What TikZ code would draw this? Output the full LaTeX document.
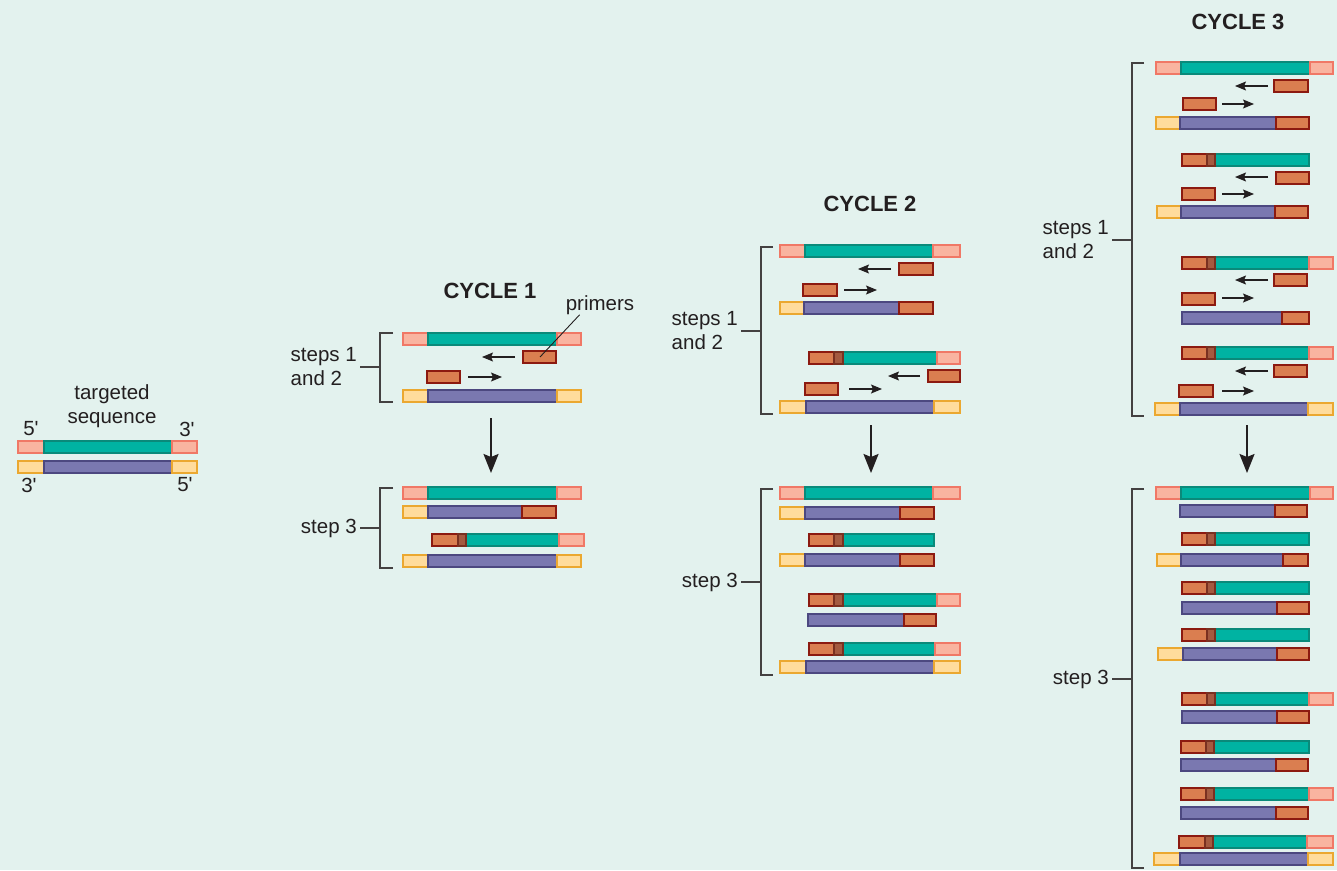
\documentclass[tikz,border=0pt]{standalone}
\usepackage{fontspec}
\setmainfont{Liberation Sans}
\usetikzlibrary{arrows.meta}

\definecolor{bgc}{HTML}{E3F2EE}
\definecolor{inkc}{HTML}{231F20}
\definecolor{pkfill}{HTML}{F9B4A0}\definecolor{pkline}{HTML}{F07866}
\definecolor{tlfill}{HTML}{00B3A2}\definecolor{tlline}{HTML}{0A8A7A}
\definecolor{pufill}{HTML}{7A78B0}\definecolor{puline}{HTML}{4C4880}
\definecolor{ylfill}{HTML}{FFDC9C}\definecolor{ylline}{HTML}{EBA830}
\definecolor{prfill}{HTML}{DA7E50}\definecolor{prline}{HTML}{8C1A10}
\definecolor{brfill}{HTML}{A45A40}\definecolor{brline}{HTML}{7A3020}

% one piece of a strand: style, x from, x to, top y
\newcommand{\seg}[4]{\draw[#1] (#2,#4) rectangle (#3,#4+12);}

\begin{document}
\begin{tikzpicture}[x=1pt,y=-1pt,
    pk/.style={fill=pkfill,draw=pkline,line width=1.2pt},
    tl/.style={fill=tlfill,draw=tlline,line width=1.2pt},
    pu/.style={fill=pufill,draw=puline,line width=1.2pt},
    yl/.style={fill=ylfill,draw=ylline,line width=1.2pt},
    pr/.style={fill=prfill,draw=prline,line width=1.2pt},
    br/.style={fill=brfill,draw=brline,line width=1.2pt},
    brk/.style={draw=inkc!85,line width=1.3pt},
    parr/.style={draw=inkc,line width=1.1pt,-{Stealth[length=11pt,width=9pt,inset=2pt]}},
    flow/.style={draw=inkc,line width=2pt,-{Stealth[length=19pt,width=15pt,inset=3pt]}},
    lbl/.style={text=inkc,font=\fontsize{20.5}{24}\selectfont,inner sep=3pt},
    ttl/.style={text=inkc,font=\fontsize{22}{26}\selectfont\bfseries,inner sep=0pt}]
  \fill[bgc] (0,0) rectangle (1337,870);
  \useasboundingbox (0,0) rectangle (1337,870);

  % targeted sequence
  \node[lbl,align=center] (tgt) at (112,406) {targeted\\sequence};
  \node[lbl] (t5a) at (31,429) {5\textquotesingle};
  \node[lbl] (t3a) at (187,429) {3\textquotesingle};
  \node[lbl] (t3b) at (29,485) {3\textquotesingle};
  \node[lbl] (t5b) at (185,485) {5\textquotesingle};
  \seg{pk}{18}{44}{441} \seg{tl}{44}{172}{441} \seg{pk}{172}{197}{441}
  \seg{yl}{18}{44}{461} \seg{pu}{44}{172}{461} \seg{yl}{172}{197}{461}

  % cycle 1
  \node[ttl] (cyc1) at (490,291) {CYCLE 1};
  \node[lbl,inner sep=0pt] (prim) at (600,305) {primers};
  \coordinate (primtip) at (540,357);
  \node[lbl,align=left,anchor=east] (c1a) at (360,367) {steps 1\\and 2};
  \draw[brk] (393,333) -- (380,333) -- (380,402) -- (393,402);
  \draw[brk] (c1a.east) -- (380,367);
  \seg{pk}{403}{428}{333} \seg{tl}{428}{557}{333} \seg{pk}{557}{581}{333}
  \seg{pr}{523}{556}{351}
  \seg{pr}{427}{460}{371}
  \seg{yl}{403}{428}{390} \seg{pu}{428}{557}{390} \seg{yl}{557}{581}{390}
  \draw[parr] (515,357) -- (482,357);
  \draw[parr] (468,377) -- (502,377);
  \draw[inkc,line width=0.9pt] ([xshift=14pt]prim.south west) -- (primtip);

  \node[lbl,anchor=east] (c1b) at (360,528) {step 3};
  \draw[brk] (393,488) -- (380,488) -- (380,568) -- (393,568);
  \draw[brk] (c1b.east) -- (380,528);
  \seg{pk}{403}{428}{487} \seg{tl}{428}{557}{487} \seg{pk}{557}{581}{487}
  \seg{yl}{403}{428}{506} \seg{pu}{428}{522}{506} \seg{pr}{522}{556}{506}
  \seg{pr}{432}{458}{534} \seg{tl}{466}{559}{534} \seg{pk}{559}{584}{534} \seg{br}{458}{466}{534}
  \seg{yl}{403}{428}{555} \seg{pu}{428}{557}{555} \seg{yl}{557}{581}{555}

  % cycle 2
  \node[ttl] (cyc2) at (870,204) {CYCLE 2};
  \node[lbl,align=left,anchor=east] (c2a) at (741,331) {steps 1\\and 2};
  \draw[brk] (773,247) -- (761,247) -- (761,414) -- (773,414);
  \draw[brk] (c2a.east) -- (761,331);
  \seg{pk}{780}{805}{245} \seg{tl}{805}{933}{245} \seg{pk}{933}{960}{245}
  \seg{pr}{899}{933}{263}
  \seg{pr}{803}{837}{284}
  \seg{yl}{780}{804}{302} \seg{pu}{804}{899}{302} \seg{pr}{899}{933}{302}
  \seg{pr}{809}{834}{352} \seg{tl}{843}{937}{352} \seg{pk}{937}{960}{352} \seg{br}{834}{843}{352}
  \seg{pr}{928}{960}{370}
  \seg{pr}{805}{838}{383}
  \seg{yl}{780}{806}{401} \seg{pu}{806}{934}{401} \seg{yl}{934}{960}{401}
  \draw[parr] (891,269) -- (858,269);
  \draw[parr] (844,290) -- (877,290);
  \draw[parr] (920,376) -- (888,376);
  \draw[parr] (849,389) -- (882,389);

  \node[lbl,anchor=east] (c2b) at (741,582) {step 3};
  \draw[brk] (773,489) -- (761,489) -- (761,675) -- (773,675);
  \draw[brk] (c2b.east) -- (761,582);
  \seg{pk}{780}{805}{487} \seg{tl}{805}{933}{487} \seg{pk}{933}{960}{487}
  \seg{yl}{780}{805}{507} \seg{pu}{805}{900}{507} \seg{pr}{900}{934}{507}
  \seg{pr}{809}{834}{534} \seg{tl}{843}{934}{534} \seg{br}{834}{843}{534}
  \seg{yl}{780}{805}{554} \seg{pu}{805}{900}{554} \seg{pr}{900}{934}{554}
  \seg{pr}{809}{834}{594} \seg{tl}{843}{937}{594} \seg{pk}{937}{960}{594} \seg{br}{834}{843}{594}
  \seg{pu}{808}{904}{614} \seg{pr}{904}{936}{614}
  \seg{pr}{809}{834}{643} \seg{tl}{843}{935}{643} \seg{pk}{935}{960}{643} \seg{br}{834}{843}{643}
  \seg{yl}{780}{806}{661} \seg{pu}{806}{934}{661} \seg{yl}{934}{960}{661}

  % cycle 3
  \node[ttl] (cyc3) at (1238,22) {CYCLE 3};
  \node[lbl,align=left,anchor=east] (c3a) at (1112,240) {steps 1\\and 2};
  \draw[brk] (1144,63) -- (1132,63) -- (1132,416) -- (1144,416);
  \draw[brk] (c3a.east) -- (1132,240);
  \seg{pk}{1156}{1181}{62} \seg{tl}{1181}{1310}{62} \seg{pk}{1310}{1333}{62}
  \seg{pr}{1274}{1308}{80}
  \seg{pr}{1183}{1216}{98}
  \seg{yl}{1156}{1180}{117} \seg{pu}{1180}{1276}{117} \seg{pr}{1276}{1309}{117}
  \seg{pr}{1182}{1207}{154} \seg{tl}{1215}{1309}{154} \seg{br}{1207}{1215}{154}
  \seg{pr}{1276}{1309}{172}
  \seg{pr}{1182}{1215}{188}
  \seg{yl}{1157}{1181}{206} \seg{pu}{1181}{1275}{206} \seg{pr}{1275}{1308}{206}
  \seg{pr}{1182}{1207}{257} \seg{tl}{1215}{1309}{257} \seg{pk}{1309}{1333}{257} \seg{br}{1207}{1215}{257}
  \seg{pr}{1274}{1307}{274}
  \seg{pr}{1182}{1215}{293}
  \seg{pu}{1182}{1282}{312} \seg{pr}{1282}{1309}{312}
  \seg{pr}{1182}{1207}{347} \seg{tl}{1215}{1309}{347} \seg{pk}{1309}{1333}{347} \seg{br}{1207}{1215}{347}
  \seg{pr}{1274}{1307}{365}
  \seg{pr}{1179}{1213}{385}
  \seg{yl}{1155}{1180}{403} \seg{pu}{1180}{1308}{403} \seg{yl}{1308}{1333}{403}
  \foreach \y in {86,177,280,371}
    \draw[parr] (1268,\y) -- (1235,\y);
  \foreach \y in {104,194,298,391}
    \draw[parr] (1222,\y) -- (1254,\y);

  \node[lbl,anchor=east] (c3b) at (1112,679) {step 3};
  \draw[brk] (1144,489) -- (1132,489) -- (1132,868) -- (1144,868);
  \draw[brk] (c3b.east) -- (1132,679);
  \seg{pk}{1156}{1181}{487} \seg{tl}{1181}{1310}{487} \seg{pk}{1310}{1333}{487}
  \seg{pu}{1180}{1275}{505} \seg{pr}{1275}{1307}{505}
  \seg{pr}{1182}{1207}{533} \seg{tl}{1215}{1309}{533} \seg{br}{1207}{1215}{533}
  \seg{yl}{1157}{1181}{554} \seg{pu}{1181}{1283}{554} \seg{pr}{1283}{1308}{554}
  \seg{pr}{1182}{1207}{582} \seg{tl}{1215}{1309}{582} \seg{br}{1207}{1215}{582}
  \seg{pu}{1182}{1277}{602} \seg{pr}{1277}{1309}{602}
  \seg{pr}{1182}{1207}{629} \seg{tl}{1215}{1309}{629} \seg{br}{1207}{1215}{629}
  \seg{yl}{1158}{1183}{648} \seg{pu}{1183}{1277}{648} \seg{pr}{1277}{1309}{648}
  \seg{pr}{1182}{1207}{693} \seg{tl}{1215}{1309}{693} \seg{pk}{1309}{1333}{693} \seg{br}{1207}{1215}{693}
  \seg{pu}{1182}{1277}{711} \seg{pr}{1277}{1309}{711}
  \seg{pr}{1181}{1206}{741} \seg{tl}{1214}{1309}{741} \seg{br}{1206}{1214}{741}
  \seg{pu}{1181}{1276}{759} \seg{pr}{1276}{1308}{759}
  \seg{pr}{1181}{1206}{788} \seg{tl}{1214}{1309}{788} \seg{pk}{1309}{1333}{788} \seg{br}{1206}{1214}{788}
  \seg{pu}{1181}{1276}{807} \seg{pr}{1276}{1308}{807}
  \seg{pr}{1179}{1205}{836} \seg{tl}{1213}{1307}{836} \seg{pk}{1307}{1333}{836} \seg{br}{1205}{1213}{836}
  \seg{yl}{1154}{1180}{853} \seg{pu}{1180}{1308}{853} \seg{yl}{1308}{1333}{853}

  % step arrows
  \foreach \x/\y in {491/418,871/425,1247/425}
    \draw[flow] (\x,\y) -- (\x,473);
\end{tikzpicture}
\end{document}
